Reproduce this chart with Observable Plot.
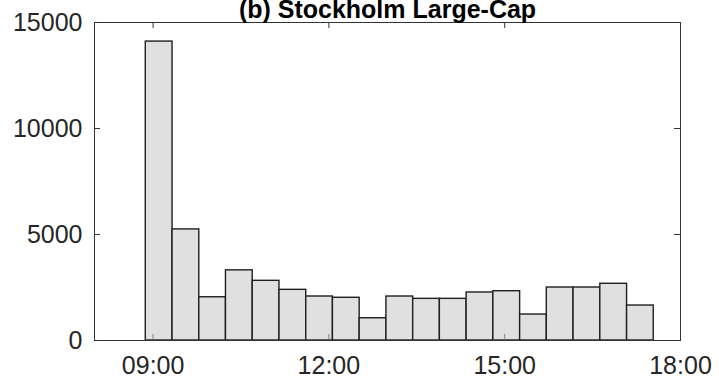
<!DOCTYPE html>
<html>
<head>
<meta charset="utf-8">
<script src="https://cdn.jsdelivr.net/npm/d3@7"></script>
<script src="https://cdn.jsdelivr.net/npm/@observablehq/plot@0.6"></script>
<style>
  html, body { margin: 0; padding: 0; background: #fff; }
  #chart svg { display: block; }
</style>
</head>
<body>
<div id="chart"></div>
<script>
const title = "(b) Stockholm Large-Cap";
// bin edges (time of day)
const binEdges = [
  "08:52:30", "09:19:54", "09:47:18", "10:14:36", "10:42:00", "11:09:24",
  "11:36:48", "12:04:06", "12:31:30", "12:58:54", "13:26:18", "13:53:36",
  "14:21:00", "14:48:24", "15:15:48", "15:43:06", "16:10:30", "16:37:54",
  "17:05:18", "17:32:36"
];
// counts per bin
const counts = [14100, 5240, 2040, 3310, 2815, 2390, 2075, 2015, 1050, 2075,
  1965, 1965, 2265, 2325, 1225, 2500, 2500, 2675, 1650];
const xDomain = ["08:00", "18:00"];
const xTicks = ["09:00", "12:00", "15:00", "18:00"];
const yTicks = [0, 5000, 10000, 15000];

const toDate = s => {
  const [h, m, sec = 0] = s.split(":").map(Number);
  return new Date(Date.UTC(2000, 0, 1, h, m, sec));
};
const bins = counts.map((c, i) => ({x1: toDate(binEdges[i]), x2: toDate(binEdges[i + 1]), y: c}));
const xt = xTicks.map(toDate);

const font = "Helvetica, 'Liberation Sans', Arial, sans-serif";
const plot = Plot.plot({
  width: 719,
  height: 385,
  marginLeft: 94,
  marginRight: 39,
  marginTop: 22,
  marginBottom: 45,
  style: {fontFamily: font, fontSize: "25px", color: "#262626", background: "#fff"},
  x: {type: "utc", domain: xDomain.map(toDate)},
  y: {domain: [0, 15000]},
  marks: [
    Plot.rectY(bins, {x1: "x1", x2: "x2", y: "y", fill: "#e0e0e0", stroke: "#1f1f1f", strokeWidth: 1.4}),
    // inward tick marks
    Plot.ruleX(xt, {x: d => d, insetTop: 312, stroke: "#666", strokeWidth: 0.8}),
    Plot.ruleX(xt, {x: d => d, insetBottom: 312, stroke: "#333", strokeWidth: 1}),
    Plot.ruleY(yTicks, {y: d => d, insetRight: 580, stroke: "#333", strokeWidth: 1}),
    Plot.ruleY(yTicks, {y: d => d, insetLeft: 580, stroke: "#333", strokeWidth: 1}),
    Plot.frame({stroke: "#333", strokeWidth: 1}),
    Plot.axisY({ticks: yTicks, tickSize: 0, tickPadding: 12, tickFormat: d => String(d), fontSize: 25, label: null}),
    Plot.axisX({ticks: xt, tickSize: 0, tickPadding: 16, tickFormat: d3.utcFormat("%H:%M"), fontSize: 25, label: null}),
    Plot.text([title], {frameAnchor: "top", dy: -5, lineAnchor: "bottom", fontSize: 25, fontWeight: "bold", fill: "#000", text: d => d})
  ]
});
document.getElementById("chart").appendChild(plot);
</script>
</body>
</html>
